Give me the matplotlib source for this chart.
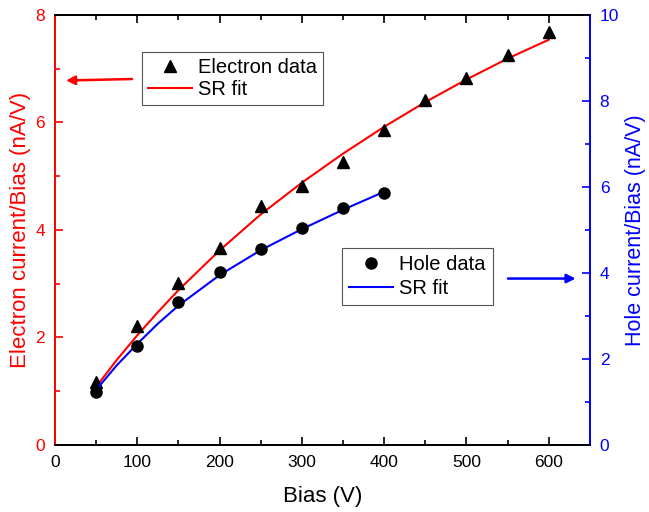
import numpy as np
import matplotlib
matplotlib.use('Agg')
import matplotlib.pyplot as plt
from matplotlib.ticker import MultipleLocator

plt.rcParams['font.family'] = ['Liberation Sans', 'DejaVu Sans']

# electron data (left axis) and hole data (right axis)
bias_e = [50, 100, 150, 200, 250, 300, 350, 400, 450, 500, 550, 600]
elec = [1.18, 2.21, 3.01, 3.67, 4.45, 4.81, 5.27, 5.86, 6.42, 6.82, 7.26, 7.69]
bias_h = [50, 100, 150, 200, 250, 300, 350, 400]
hole = [1.22, 2.29, 3.32, 4.02, 4.56, 5.04, 5.52, 5.87]

# SR fit curves
fit_e_x = [50, 75, 100, 125, 150, 200, 250, 300, 350, 400, 450, 500, 550, 600]
fit_e_y = [1.08, 1.58, 2.04, 2.47, 2.88, 3.62, 4.29, 4.88, 5.42, 5.92, 6.38, 6.80, 7.19, 7.54]
fit_h_x = [50, 75, 100, 125, 150, 200, 250, 300, 350, 400]
fit_h_y = [1.28, 1.85, 2.35, 2.82, 3.24, 3.95, 4.53, 5.02, 5.47, 5.89]

fig = plt.figure(figsize=(6.49, 5.12), dpi=100)
ax = fig.add_axes([0.0847, 0.131, 0.8243, 0.8397])
ax2 = ax.twinx()

ax.plot(bias_e, elec, '^', color='black', ms=8.5, label='Electron data', zorder=3)
ax.plot(fit_e_x, fit_e_y, '-', color='red', lw=1.5, label='SR fit', zorder=2)
ax2.plot(bias_h, hole, 'o', color='black', ms=8, label='Hole data', zorder=3)
ax2.plot(fit_h_x, fit_h_y, '-', color='blue', lw=1.5, label='SR fit', zorder=2)

ax.set_xlim(0, 650)
ax.set_ylim(0, 8)
ax2.set_ylim(0, 10)

ax.xaxis.set_major_locator(MultipleLocator(100))
ax.xaxis.set_minor_locator(MultipleLocator(50))
ax.yaxis.set_major_locator(MultipleLocator(2))
ax.yaxis.set_minor_locator(MultipleLocator(1))
ax2.yaxis.set_major_locator(MultipleLocator(2))
ax2.yaxis.set_minor_locator(MultipleLocator(1))

ax.tick_params(axis='x', which='both', direction='in', top=True, labelsize=12.5, width=1.2, pad=7)
ax.tick_params(axis='x', which='major', length=6)
ax.tick_params(axis='x', which='minor', length=3.5)
ax.tick_params(axis='y', which='both', direction='in', colors='red', labelsize=12.5, width=1.2, pad=7)
ax.tick_params(axis='y', which='major', length=6)
ax.tick_params(axis='y', which='minor', length=3.5)
ax2.tick_params(axis='y', which='both', direction='in', colors='blue', labelsize=12.5, width=1.2, pad=7)
ax2.tick_params(axis='y', which='major', length=6)
ax2.tick_params(axis='y', which='minor', length=3.5)

for a in (ax, ax2):
    for s in a.spines.values():
        s.set_linewidth(1.3)
ax2.spines['left'].set_color('red')
ax2.spines['right'].set_color('blue')
ax.spines['left'].set_color('red')
ax.spines['right'].set_color('blue')

ax.set_xlabel('Bias (V)', fontsize=16, labelpad=12)
ax.set_ylabel('Electron current/Bias (nA/V)', fontsize=16, color='red')
ax2.set_ylabel('Hole current/Bias (nA/V)', fontsize=15.5, color='blue')
ax.yaxis.set_label_coords(-0.045, 0.5)
ax2.yaxis.set_label_coords(1.066, 0.5)

leg1 = ax.legend(loc='upper left', bbox_to_anchor=(0.162, 0.915), fontsize=14.5,
                 frameon=True, fancybox=False, edgecolor='#555555', framealpha=1,
                 handlelength=2.2, handletextpad=0.3, borderpad=0.3,
                 labelspacing=0.15, borderaxespad=0)
leg1.get_frame().set_linewidth(0.8)
leg2 = ax2.legend(loc='upper left', bbox_to_anchor=(0.536, 0.458), fontsize=14.5,
                  frameon=True, fancybox=False, edgecolor='#555555', framealpha=1,
                  handlelength=2.2, handletextpad=0.3, borderpad=0.35,
                  labelspacing=0.25, borderaxespad=0)
leg2.get_frame().set_linewidth(0.8)

ax.annotate('', xy=(10, 6.78), xytext=(97, 6.81),
            arrowprops=dict(arrowstyle='-|>', color='red', lw=1.8, mutation_scale=13))
ax2.annotate('', xy=(636, 3.87), xytext=(547, 3.87),
             arrowprops=dict(arrowstyle='-|>', color='blue', lw=1.8, mutation_scale=13))

fig.savefig('out.png', dpi=100)
